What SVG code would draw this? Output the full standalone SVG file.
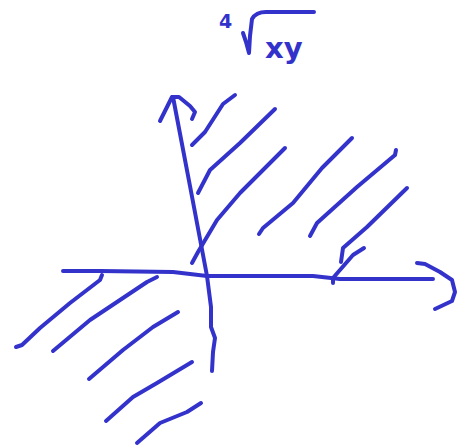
<svg xmlns="http://www.w3.org/2000/svg" width="469" height="448" viewBox="0 0 469 448">
<style>
.s{fill:none;stroke:#3333cc;stroke-width:4;stroke-linecap:round;stroke-linejoin:round}
.t{fill:#3333cc;font-family:"DejaVu Sans","Liberation Sans",sans-serif;font-weight:bold}
</style>
<rect width="469" height="448" fill="#fff"/>
<g id="label">
<text class="t" x="219" y="28" font-size="19">4</text>
<path class="s" d="M243,33 L246,42 L249,53 L250,36 L252,19 Q256,12 266,12 L314,12"/>
<text class="t" x="265" y="58" font-size="29">xy</text>
</g>
<g id="axes">
<path class="s" d="M212,371 L213,352 L215,338 L211,327 L211,307 L207,276 L190,186 L173,97"/>
<path class="s" d="M172,97 L167,107 L160,121 M172,97 L179,97 L190,106 L195,112 L192,119"/>
<path class="s" d="M63,271 L100,271 L173,272 L207,276 L313,276 L340,279 L433,279"/>
<path class="s" d="M417,263 L425,264 L440,272 L452,280 L455,292 L452,301 L435,309"/>
</g>
<g id="hatch">
<path class="s" d="M192,145 L205,132 L223,104 L235,95"/>
<path class="s" d="M198,193 L210,170 L240,143 L275,109"/>
<path class="s" d="M192,263 L198,252 L217,220 L240,193 L285,148"/>
<path class="s" d="M259,234 L263,228 L293,203 L322,168 L352,138"/>
<path class="s" d="M310,236 L317,223 L357,187 L395,155 L396,150"/>
<path class="s" d="M341,262 L343,248 L367,227 L407,188"/>
<path class="s" d="M333,283 L333,278 L353,255 L364,248"/>
<path class="s" d="M16,347 L22,345 L40,328 L70,303 L100,280 L102,275"/>
<path class="s" d="M53,351 L90,320 L147,282 L157,277"/>
<path class="s" d="M89,379 L123,350 L153,327 L178,312"/>
<path class="s" d="M106,421 L133,397 L157,383 L192,362"/>
<path class="s" d="M137,443 L160,423 L187,412 L201,403"/>
</g>
</svg>
